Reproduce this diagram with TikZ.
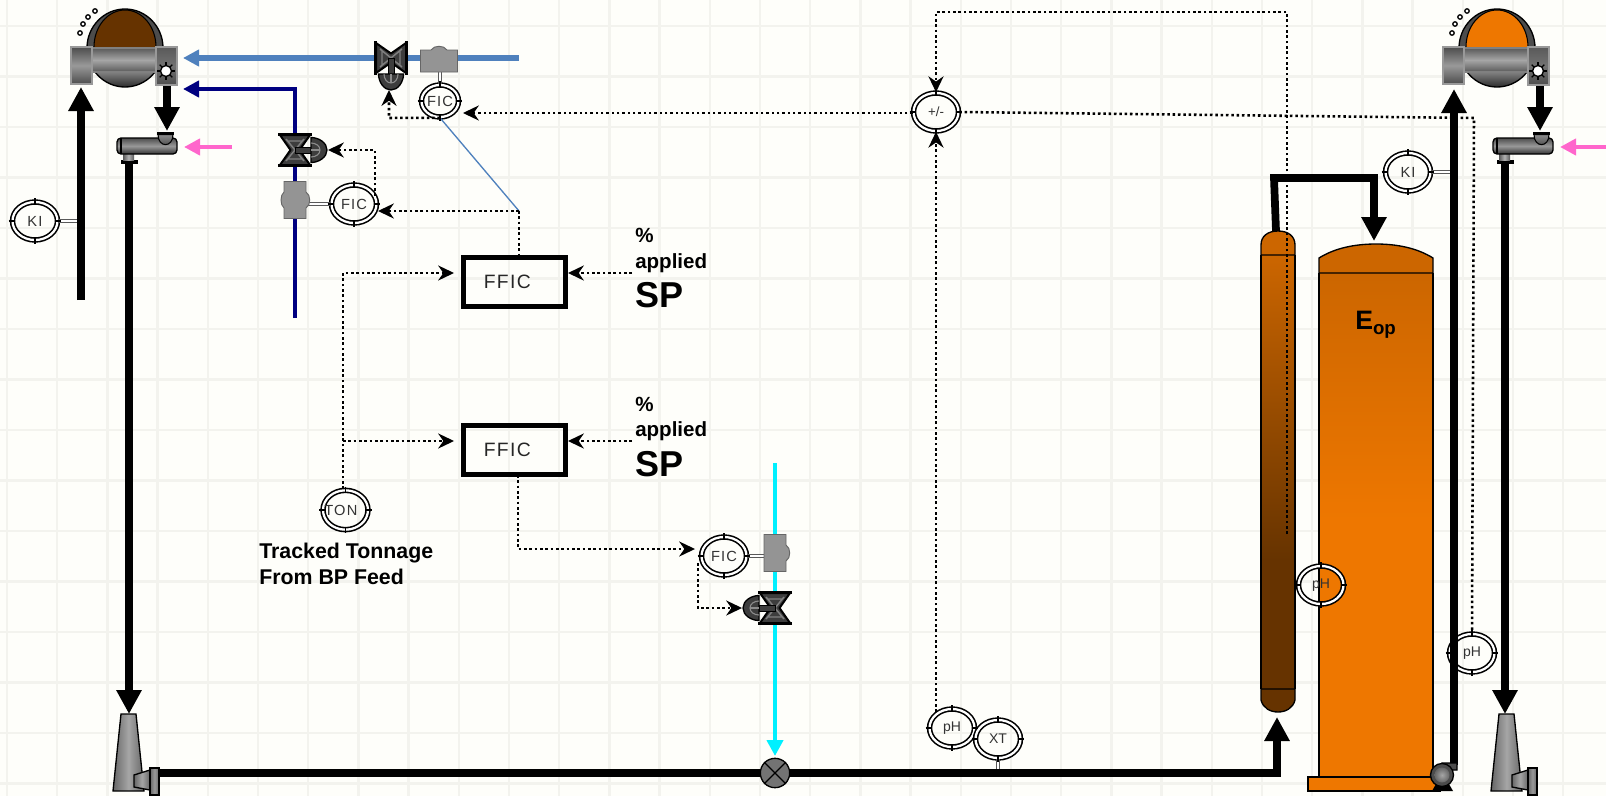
\documentclass[tikz,border=0pt]{standalone}
\usepackage{fontspec}
\setmainfont{Liberation Sans}
\newfontfamily\instfont[LetterSpace=8]{Liberation Sans}
\newfontfamily\boxfont[LetterSpace=7]{Liberation Sans}
\usetikzlibrary{arrows.meta,shapes.geometric,calc}
\definecolor{paper}{HTML}{FEFEFA}
\definecolor{gridc}{HTML}{F3F3EE}
\definecolor{steel}{HTML}{4F81BD}
\definecolor{navyp}{HTML}{000080}
\definecolor{pinkp}{HTML}{FF66CC}
\definecolor{cyanp}{HTML}{00F0FF}
\definecolor{brownp}{HTML}{663300}
\definecolor{orangedk}{HTML}{CC6600}
\definecolor{orangep}{HTML}{EE7700}
\definecolor{valvec}{HTML}{3D3D3D}
\tikzset{
  bigpipe/.style={draw=black,line width=5.8pt,-{Triangle[length=18pt,width=18pt]}},
  colpipe/.style={line width=3.6pt,-{Triangle[length=12pt,width=12pt]}},
  signal/.style={draw=black,line width=1.9pt,dash pattern=on 1.9pt off 2.1pt},
  signalarrow/.style={signal,-{Stealth[length=12pt,width=11.5pt,inset=4pt,line width=0pt,sep=0pt]}},
  instb/.style={ellipse,draw=black,line width=1.2pt,double=white,double distance=1.7pt,inner sep=0pt,minimum width=33.75pt,minimum height=28.5pt,text=black!80,font=\instfont\fontsize{11}{11}\selectfont},
  instsmall/.style={instb,minimum width=27.75pt,minimum height=24pt},
  ffic/.style={rectangle,draw=black,line width=3.75pt,minimum width=76.5pt,minimum height=36.75pt,inner sep=0pt,font=\boxfont\fontsize{14.5}{14.5}\selectfont,text=black!85},
  stub/.style={draw=black!65,line width=3.4pt},
  stubin/.style={draw=white,line width=1.8pt},
  lab/.style={anchor=base west,inner sep=0pt,font=\bfseries\fontsize{15.4}{15.4}\selectfont},
  sp/.style={anchor=base west,inner sep=0pt,font=\bfseries\fontsize{27}{27}\selectfont},
  track/.style={anchor=base west,inner sep=0pt,font=\bfseries\fontsize{16}{16}\selectfont},
}
\newcommand{\InstTicks}[1]{%
  \draw[black,line width=.8pt] (#1.north)++(0,-3)--++(0,6) (#1.south)++(0,-3)--++(0,6)
    (#1.east)++(-3,0)--++(6,0) (#1.west)++(-3,0)--++(6,0);}
\newcommand{\Washer}[2]{%
  \begin{scope}[shift={(#1,0)}]
    \fill[black!70] (125,48) circle[x radius=38,y radius=39];
    \begin{scope}
      \clip (125,48) circle[x radius=38,y radius=39];
      \shade[top color=black!45,bottom color=black!85] (85,70) rectangle (165,88);
    \end{scope}
    \draw[black,line width=1pt] (125,48) circle[x radius=38,y radius=39];
    \begin{scope}
      \clip (85,0) rectangle (165,60);
      \fill[#2,draw=black,line width=.8pt] (125,47) circle[x radius=31,y radius=37];
    \end{scope}
    \shade[top color=black!65,bottom color=black!65,middle color=black!35,draw=black!50,line width=.8pt] (92,48) rectangle (156,72);
    \shade[top color=black!70,bottom color=black!70,middle color=black!40,draw=black!40,line width=1pt] (71,47) rectangle (92,84);
    \shade[top color=black!65,bottom color=black!70,middle color=black!55,draw=black!40,line width=1pt] (156,47) rectangle (177,85);
    \foreach \a in {0,45,...,315}{\draw[black,line width=.9pt] (166,71)--++(\a:9);}
    \fill[white,draw=black,line width=1pt] (166,71) circle[radius=5.5];
    \foreach \p in {(80,33),(83,24),(88,17),(95,11)}{\draw[black,line width=1pt,fill=white] \p circle[radius=2.2];}
  \end{scope}}
\newcommand{\Repulper}[1]{%
  \begin{scope}[shift={(#1,0)}]
    \fill[black] (121,160) rectangle (138,163.5);
    \shade[left color=black!65,right color=black!65,middle color=black!30] (123,154) rectangle (134,160);
    \shade[top color=black!70,bottom color=black!80,middle color=black!40,draw=black,line width=1pt,rounded corners=3pt] (117,138) rectangle (177,154);
    \draw[black,line width=.8pt] (121,138)--(121,154);
    \fill[black] (157,132) rectangle (174,134.5);
    \shade[top color=black!45,bottom color=black!75,draw=black,line width=.8pt] (158,134.5) -- (173,134.5) .. controls (173,148) and (158,148) .. (158,134.5) -- cycle;
  \end{scope}}
\newcommand{\Stack}[1]{%
  \begin{scope}[shift={(#1,0)}]
    \shade[left color=black!60,right color=black!60,middle color=black!35,draw=black,line width=1pt] (121,714)--(136,714)--(144,791)--(113,791)--cycle;
    \shade[left color=black!60,right color=black!60,middle color=black!35,draw=black,line width=1pt] (134,775)--(150,770)--(150,790)--(134,787)--cycle;
    \shade[left color=black!60,right color=black!60,middle color=black!40,draw=black,line width=1pt] (150,768) rectangle (159,795);
  \end{scope}}
\newcommand{\Valve}[3]{%
  \begin{scope}[shift={(#1,#2)},rotate=#3]
    \fill[valvec,draw=black,line width=1.5pt,line join=round] (-15,-15)--(15,-15)--(4.5,0)--(15,15)--(-15,15)--(-4.5,0)--cycle;
    \draw[black,line width=2pt] (-17,-15.5)--(17,-15.5) (-17,15.5)--(17,15.5);
    \draw[black!50,line width=1.1pt] (-7,-9)--(7,-9) (-7,9)--(7,9) (-9,-11)--(9,11) (9,-11)--(-9,11);
    \fill[valvec,draw=black,line width=.7pt] (0,-3) rectangle (16,3);
    \fill[valvec,draw=black,line width=1pt] (16,-12.5) .. controls (24,-12.5) and (32,-7) .. (32,0) .. controls (32,7) and (24,12.5) .. (16,12.5) -- cycle;
    \draw[black!45,line width=.8pt] (16,-7) .. controls (21,-7) and (25,-4) .. (25,0) .. controls (25,4) and (21,7) .. (16,7);
    \draw[black!45,line width=.8pt] (16,0)--(25,0);
  \end{scope}}
\newcommand{\FlowE}[4]{%
  \begin{scope}[shift={(#1,#2)},rotate=#3]
    \fill[black!42,draw=black!60,line width=.7pt] (-11,-18.5)--(11,-18.5)--(11,-8) .. controls (16,-5) and (16,5) .. (11,8) -- (11,18.5) -- (-11,18.5) -- (-11,8) .. controls (-11-#4,5) and (-11-#4,-5) .. (-11,-8) -- cycle;
  \end{scope}}
\begin{document}
\begin{tikzpicture}[x=0.75pt,y=-0.75pt]
\useasboundingbox (0,0) rectangle (1606,796);
\fill[paper] (0,0) rectangle (1606,796);
% background grid
\foreach \k in {0,...,32}{\draw[gridc,line width=1.8pt] ({7+50.2*\k},0)--({7+50.2*\k},796);}
\foreach \k in {0,...,15}{\draw[gridc,line width=1.8pt] (0,{26+50.5*\k})--(1606,{26+50.5*\k});}

% named end points
\coordinate (wLin) at (81,87);
\coordinate (wLstart) at (81,300);
\coordinate (wLout) at (167,86);
\coordinate (rLin) at (167,131);
\coordinate (rLout) at (129,163);
\coordinate (sLin) at (129,714);
\coordinate (sLout) at (159,773);
\coordinate (blueEnd) at (519,58);
\coordinate (blueTip) at (183,58);
\coordinate (navyEnd) at (295,318);
\coordinate (navyCorner) at (295,89);
\coordinate (navyTip) at (183,89);
\coordinate (pinkLs) at (232,147);
\coordinate (pinkLt) at (184,147);
\coordinate (pinkRs) at (1606,147);
\coordinate (pinkRt) at (1560,147);
\coordinate (cyanS) at (775,463);
\coordinate (cyanT) at (775,756);
\coordinate (mainC) at (1277,773);
\coordinate (towerIn) at (1277,717);
\coordinate (ovA) at (1276,231);
\coordinate (ovB) at (1274,178);
\coordinate (ovC) at (1374,178);
\coordinate (tankIn) at (1374,241);
\coordinate (pumpOut) at (1454,765);
\coordinate (wRin) at (1454,89);
\coordinate (wRout) at (1540,86);
\coordinate (rRin) at (1540,131);
\coordinate (rRout) at (1505,163);
\coordinate (sRin) at (1505,714);
\coordinate (junc) at (519,211);
\coordinate (fic2tip) at (378,211);
\coordinate (fic1tip) at (463,113);
\coordinate (v1act) at (389,90);
\coordinate (v1c) at (389,118);
\coordinate (v2act) at (328,150);
\coordinate (v2c) at (375,150);
\coordinate (v2s) at (375,196);
\coordinate (v3act) at (742,608);
\coordinate (v3c) at (698,608);
\coordinate (v3s) at (698,563);
\coordinate (sp1) at (632,273);
\coordinate (sp2) at (632,441);
\coordinate (ff1R) at (568,273);
\coordinate (ff2R) at (568,441);
\coordinate (ff1L) at (454,273);
\coordinate (ff2L) at (454,441);
\coordinate (tons) at (343,489);
\coordinate (tonc) at (343,273);
\coordinate (tonb) at (343,441);
\coordinate (ff2s) at (518,475);
\coordinate (ff2c) at (518,549);
\coordinate (fic3tip) at (695,549);
\coordinate (dotA) at (936,12);
\coordinate (dotB) at (1287,12);
\coordinate (dotC) at (1287,534);
\coordinate (dotD) at (1474,118);
\coordinate (phs) at (936,712);

% vessels
\shade[top color=orangedk,bottom color=brownp,draw=none] (1261,255) rectangle (1295,560);
\fill[brownp] (1261,560) rectangle (1295,689);
\fill[orangedk,draw=black,line width=1pt] (1261,255) -- (1261,245) .. controls (1261,236) and (1268,231) .. (1278,231) .. controls (1288,231) and (1295,236) .. (1295,245) -- (1295,255) -- cycle;
\fill[brownp,draw=black,line width=1pt] (1261,689) -- (1261,700) .. controls (1263,708) and (1270,712) .. (1278,712) .. controls (1286,712) and (1293,708) .. (1295,700) -- (1295,689) -- cycle;
\draw[black,line width=1pt] (1261,255)--(1261,689) (1295,255)--(1295,689);
\shade[top color=orangedk,bottom color=orangep,draw=none] (1319,273) rectangle (1433,520);
\fill[orangep] (1319,520) rectangle (1433,777);
\fill[orangedk,draw=black,line width=1pt] (1319,273) -- (1319,258) .. controls (1335,248) and (1355,244) .. (1376,244) .. controls (1397,244) and (1417,248) .. (1433,258) -- (1433,273) -- cycle;
\draw[black,line width=1pt] (1319,273)--(1319,777) (1433,273)--(1433,777);
\fill[orangep,draw=black,line width=1pt] (1308,777) rectangle (1440,791);

% instruments and boxes
\node[instb] (kiL) at (35,221) {KI};
\node[instb] (kiR) at (1408,172) {KI};
\node[instsmall] (fic1) at (440,101) {FIC};
\node[instb] (fic2) at (354,204) {FIC};
\node[instb] (fic3) at (724,556) {FIC};
\node[instb,font=\fontsize{10}{10}\selectfont] (sum) at (936,112) {+/-};
\node[instb,minimum height=29.5pt] (ton) at (345.5,510) {\hspace{-7pt}TON};
\node[instb,font=\fontsize{10.5}{10.5}\selectfont] (phA) at (952,728) {pH};
\node[instb,font=\fontsize{10.5}{10.5}\selectfont] (xt) at (998,739) {XT};
\node[instb,font=\fontsize{10.5}{10.5}\selectfont] (phB) at (1321,585) {pH};
\node[instb,font=\fontsize{10.5}{10.5}\selectfont] (phC) at (1472,653) {pH};
\node[ffic] (ff1) at (514.5,282) {FFIC\kern10.8pt};
\node[ffic] (ff2) at (514.5,450) {FFIC\kern10.8pt};

% instrument stubs
\foreach \a/\b in {kiL.east/wLin|-kiL.east,kiR.east/wRin|-kiR.east,xt.south/xt.south|-sLout}{
  \draw[stub] (\a) -- (\b); \draw[stubin] (\a) -- (\b);}
\draw[stub] (fic1.north) -- (fic1.north|-blueEnd); \draw[stubin] (fic1.north) -- (fic1.north|-blueEnd);
\draw[stub] (fic2.west) -- (navyCorner|-fic2.west); \draw[stubin] (fic2.west) -- (navyCorner|-fic2.west);
\draw[stub] (fic3.east) -- (cyanS|-fic3.east); \draw[stubin] (fic3.east) -- (cyanS|-fic3.east);

% process lines
\draw[bigpipe] (wLstart) -- (wLin);
\draw[bigpipe] (wLout) -- (rLin);
\draw[bigpipe] (rLout) -- (sLin);
\draw[bigpipe] (sLout) -- (mainC) -- (towerIn);
\draw[bigpipe] (ovA) -- (ovB) -- (ovC) -- (tankIn);
\draw[bigpipe] (pumpOut) -- (wRin);
\draw[bigpipe] (wRout) -- (rRin);
\draw[bigpipe] (rRout) -- (sRin);
\draw[colpipe,draw=steel,color=steel,line width=4.4pt] (blueEnd) -- (blueTip);
\draw[colpipe,draw=navyp,color=navyp] (navyEnd) -- (navyCorner) -- (navyTip);
\draw[colpipe,draw=pinkp,color=pinkp] (pinkLs) -- (pinkLt);
\draw[colpipe,draw=pinkp,color=pinkp] (pinkRs) -- (pinkRt);
\draw[colpipe,draw=cyanp,color=cyanp] (cyanS) -- (cyanT);
\draw[steel,line width=1pt] (fic1.south) -- (junc);
\node[circle,draw=black,line width=1pt,fill=black!55,minimum size=22pt,inner sep=0pt] (xv) at (775,773) {};

% signal lines
\draw[signalarrow] (junc) -- (fic2tip);
\draw[signal] (junc) -- (ff1.north-|junc);
\draw[signalarrow] (fic1.south) -- (v1c) -- (v1act);
\draw[signalarrow] (sum.west|-fic1tip) -- (fic1tip);
\draw[signalarrow] (v2s) -- (v2c) -- (v2act);
\draw[signalarrow] (tons) -- (tonc) -- (ff1L);
\draw[signalarrow] (tonb) -- (ff2L);
\draw[signalarrow] (sp1) -- (ff1R);
\draw[signalarrow] (sp2) -- (ff2R);
\draw[signalarrow] (ff2s) -- (ff2c) -- (fic3tip);
\draw[signalarrow] (v3s) -- (v3c) -- (v3act);
\draw[signalarrow] (dotC) -- (dotB) -- (dotA) -- (sum.north);
\draw[signalarrow] (phs) -- (sum.south);
\draw[signal] (sum.east) -- (dotD) -- (phC.north);

% equipment
\Washer{0}{brownp}
\Washer{1372}{orangep}
\Repulper{0}
\Repulper{1376}
\Stack{0}
\Stack{1378}
\Valve{391}{58}{-90}
\Valve{295}{150}{0}
\Valve{775}{608}{180}
\FlowE{439}{61}{90}{0}
\FlowE{295}{200}{0}{4}
\FlowE{775}{553}{0}{0}

% pump
\fill[black] (1432,791) -- (1436,784) -- (1449,784) -- (1453,791) -- cycle;
\fill[black!70,draw=black,line width=1pt] (1442,763) -- (1457,763) -- (1457,770) -- (1451,770) -- (1442,775) -- cycle;
\fill[black!70,draw=black,line width=1pt] (1442,775) circle[radius=11.5];
\shade[inner color=black!35,outer color=black!60] (1442,775) circle[radius=7.5];

% ticks
\foreach \n in {kiL,kiR,fic1,fic2,fic3,sum,ton,phA,xt,phB,phC}{\InstTicks{\n}}
\draw[black,line width=.9pt] (xv.north west)--(xv.south east) (xv.north east)--(xv.south west);

% labels
\node[lab] (pa) at (635,242) {\%};
\node[lab] (pb) at (635,268) {applied};
\node[sp] (pc) at (635,307) {SP};
\node[lab] (qa) at (635,411) {\%};
\node[lab] (qb) at (635,436) {applied};
\node[sp] (qc) at (635,476) {SP};
\node[track] (ta) at (259,558) {Tracked Tonnage};
\node[track] (tb) at (259,584) {From BP Feed};
\node[anchor=base west,inner sep=0pt,font=\bfseries\fontsize{20}{20}\selectfont] (eop) at (1355,329) {E\raisebox{-4pt}{\fontsize{14}{14}\selectfont op}};
\end{tikzpicture}
\end{document}
